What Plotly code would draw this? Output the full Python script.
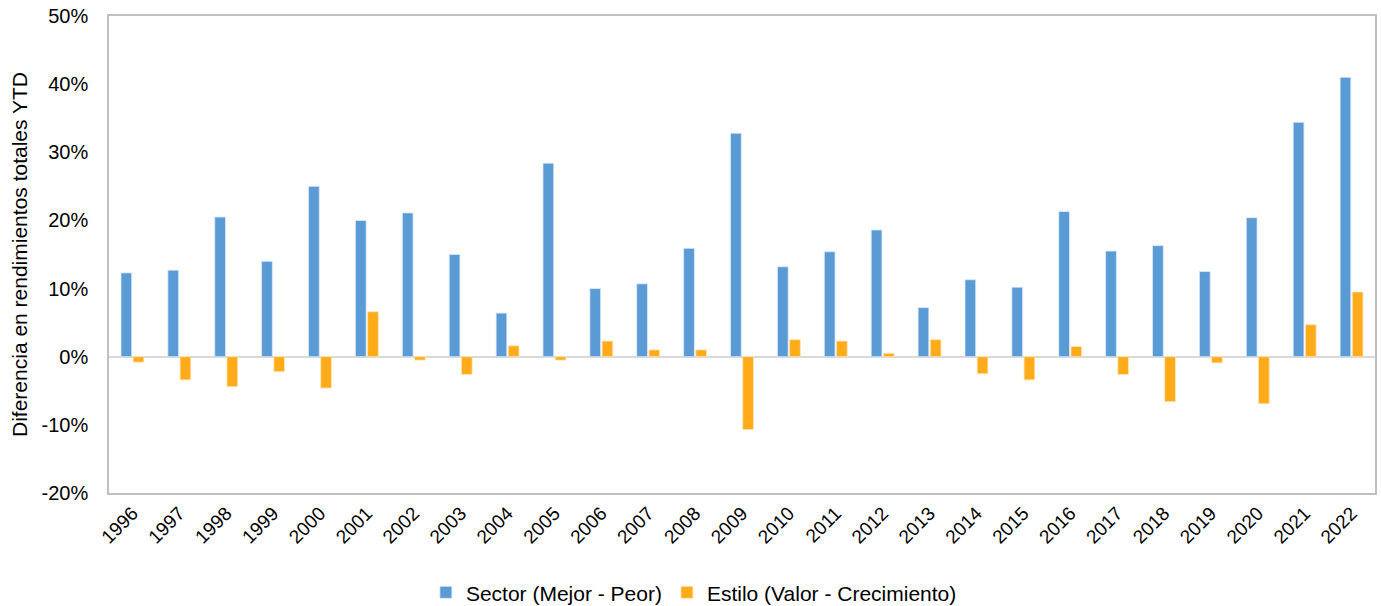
import plotly.graph_objects as go

years = [str(y) for y in range(1996, 2023)]
sector = [12.3, 12.7, 20.5, 14.0, 25.0, 20.0, 21.1, 15.0, 6.4, 28.4,
          10.0, 10.7, 15.9, 32.8, 13.2, 15.4, 18.6, 7.2, 11.3, 10.2,
          21.3, 15.5, 16.3, 12.5, 20.4, 34.4, 41.0]
estilo = [-0.8, -3.4, -4.4, -2.2, -4.6, 6.6, -0.5, -2.6, 1.6, -0.5,
          2.3, 1.0, 1.0, -10.7, 2.5, 2.3, 0.5, 2.5, -2.5, -3.4,
          1.5, -2.6, -6.6, -0.9, -6.9, 4.7, 9.5]
y_ticks = [-20, -10, 0, 10, 20, 30, 40, 50]
y_labels = ["-20%", "-10%", "0%", "10%", "20%", "30%", "40%", "50%"]

font = "Liberation Sans, Arial, sans-serif"

fig = go.Figure()
fig.add_trace(go.Bar(x=years, y=sector, name="Sector (Mejor - Peor)",
                     marker=dict(color="#5B9BD5", line=dict(color="#DCE9F6", width=0.8))))
fig.add_trace(go.Bar(x=years, y=estilo, name="Estilo (Valor - Crecimiento)",
                     marker=dict(color="#FFAB1A", line=dict(color="#FFE7BC", width=0.8))))

fig.update_layout(
    width=1381, height=606,
    margin=dict(l=109, r=4, t=16, b=113),
    paper_bgcolor="white", plot_bgcolor="white",
    barmode="group", bargap=0.48, bargroupgap=0.12,
    font=dict(family=font, size=21, color="#000000"),
    showlegend=True,
    legend=dict(orientation="h", xref="paper", yref="container",
                x=0.462, xanchor="center", y=0.022, yanchor="middle",
                font=dict(size=21), itemwidth=30, traceorder="normal"),
)
fig.update_xaxes(
    type="category", tickangle=-45, tickfont=dict(size=19),
    showline=True, mirror=True, linecolor="#C0C0C0", linewidth=1.5,
    showgrid=False, ticks="",
)
fig.update_yaxes(
    range=[-20, 50], tickvals=y_ticks, ticktext=y_labels,
    tickfont=dict(size=20), ticklabelstandoff=15,
    showline=True, mirror=True, linecolor="#C0C0C0", linewidth=1.5,
    showgrid=False, zeroline=True, zerolinecolor="#D9D9D9", zerolinewidth=2,
    title=dict(text="Diferencia en rendimientos totales YTD", font=dict(size=21), standoff=8),
)

fig.write_html("out.html")
